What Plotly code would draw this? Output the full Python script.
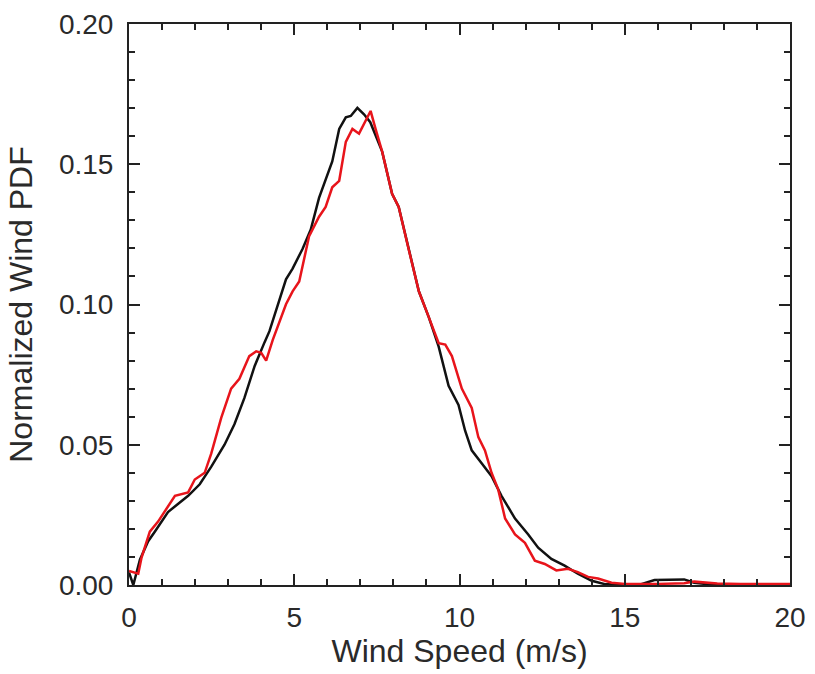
import plotly.graph_objects as go

# Observed (black) wind PDF
black_speed = [0.0, 0.13, 0.33, 0.58, 0.78, 1.18, 1.49, 1.79, 2.14, 2.49, 2.89, 3.19, 3.49, 3.80,
               4.10, 4.25, 4.75, 4.95, 5.25, 5.50, 5.75, 6.00, 6.15, 6.36, 6.56, 6.71, 6.91, 7.11,
               7.30, 7.66, 7.96, 8.16, 8.46, 8.77, 9.07, 9.37, 9.67, 9.97, 10.17, 10.37, 10.67,
               10.97, 11.27, 11.68, 12.08, 12.38, 12.78, 13.18, 13.58, 14.0, 14.4, 15.0, 15.5,
               15.9, 16.3, 16.8, 17.1, 17.5, 18.5, 20.0]
black_pdf = [0.0045, 0.0, 0.009, 0.0156, 0.019, 0.026, 0.029, 0.0318, 0.0359, 0.0422, 0.050, 0.0573,
             0.0666, 0.078, 0.0865, 0.0905, 0.109, 0.1128, 0.1198, 0.1267, 0.138, 0.1464, 0.151,
             0.1626, 0.1667, 0.1672, 0.1701, 0.1678, 0.165, 0.1545, 0.1395, 0.1348, 0.1198, 0.1047,
             0.0955, 0.085, 0.071, 0.0642, 0.055, 0.048, 0.0434, 0.0388, 0.0318, 0.0237, 0.018,
             0.0133, 0.0093, 0.0069, 0.004, 0.0015, 0.0003, 0.0002, 0.0003, 0.0018, 0.002, 0.002,
             0.0008, 0.0003, 0.0002, 0.0002]

# Model (red) wind PDF
red_speed = [0.0, 0.28, 0.38, 0.63, 0.88, 1.39, 1.79, 1.99, 2.29, 2.49, 2.79, 3.09, 3.34, 3.64, 3.85,
             4.0, 4.15, 4.35, 4.75, 4.95, 5.15, 5.45, 5.75, 5.95, 6.15, 6.36, 6.56, 6.76, 6.96, 7.31,
             7.46, 7.66, 7.96, 8.16, 8.46, 8.77, 9.07, 9.37, 9.57, 9.77, 10.07, 10.37, 10.57, 10.77,
             10.97, 11.17, 11.38, 11.68, 11.98, 12.28, 12.58, 12.93, 13.28, 13.58, 13.89, 14.19,
             14.6, 15.0, 16.0, 16.8, 17.1, 17.4, 17.8, 18.5, 20.0]
red_pdf = [0.005, 0.004, 0.0098, 0.019, 0.0226, 0.0318, 0.033, 0.0376, 0.040, 0.0469, 0.0596, 0.070,
           0.0735, 0.0816, 0.0833, 0.0828, 0.080, 0.0874, 0.1001, 0.1047, 0.1082, 0.1244, 0.1313,
           0.1348, 0.1418, 0.1441, 0.158, 0.1626, 0.1609, 0.169, 0.1626, 0.1545, 0.1395, 0.1348,
           0.1198, 0.1047, 0.0955, 0.0862, 0.0857, 0.0816, 0.070, 0.0631, 0.0527, 0.048, 0.040,
           0.0341, 0.0237, 0.018, 0.015, 0.0087, 0.0075, 0.0052, 0.0058, 0.0046, 0.0029, 0.0023,
           0.0008, 0.0004, 0.0004, 0.0006, 0.0012, 0.0010, 0.0005, 0.0004, 0.0004]

x_ticks = [0, 5, 10, 15, 20]
y_ticks = [0.00, 0.05, 0.10, 0.15, 0.20]
y_tick_text = ["0.00", "0.05", "0.10", "0.15", "0.20"]

fig = go.Figure()
fig.add_trace(go.Scatter(x=black_speed, y=black_pdf, mode="lines",
                         line=dict(color="#111111", width=2.5), showlegend=False))
fig.add_trace(go.Scatter(x=red_speed, y=red_pdf, mode="lines",
                         line=dict(color="#e8141b", width=2.5), showlegend=False))

tick_font = dict(family="Liberation Sans, Arial, sans-serif", size=28, color="#2a2a2a")
title_font = dict(family="Liberation Sans, Arial, sans-serif", size=32, color="#2a2a2a")

fig.update_layout(
    width=815, height=674,
    margin=dict(l=129, r=22, t=9, b=89),
    paper_bgcolor="white", plot_bgcolor="white",
    font=tick_font,
    xaxis=dict(
        range=[0, 20], tickvals=x_ticks, ticktext=[str(v) for v in x_ticks],
        ticks="inside", ticklen=11, tickwidth=2, tickcolor="#222222",
        minor=dict(ticks="inside", dtick=1, ticklen=6, tickwidth=1.5, tickcolor="#222222"),
        showline=True, linecolor="#222222", linewidth=2, mirror="ticks",
        showgrid=False, zeroline=False,
        ticklabelstandoff=6, ticklabeloverflow="allow",
        title=dict(text="Wind Speed (m/s)", font=title_font, standoff=8),
        tickfont=tick_font,
    ),
    yaxis=dict(
        range=[0, 0.20], tickvals=y_ticks, ticktext=y_tick_text,
        ticks="inside", ticklen=11, tickwidth=2, tickcolor="#222222",
        minor=dict(ticks="inside", dtick=0.01, ticklen=6, tickwidth=1.5, tickcolor="#222222"),
        showline=True, linecolor="#222222", linewidth=2, mirror="ticks",
        showgrid=False, zeroline=False,
        ticklabelstandoff=8, ticklabeloverflow="allow",
        title=dict(text="Normalized Wind PDF", font=title_font, standoff=17),
        tickfont=tick_font,
    ),
)

fig.write_html("out.html")
